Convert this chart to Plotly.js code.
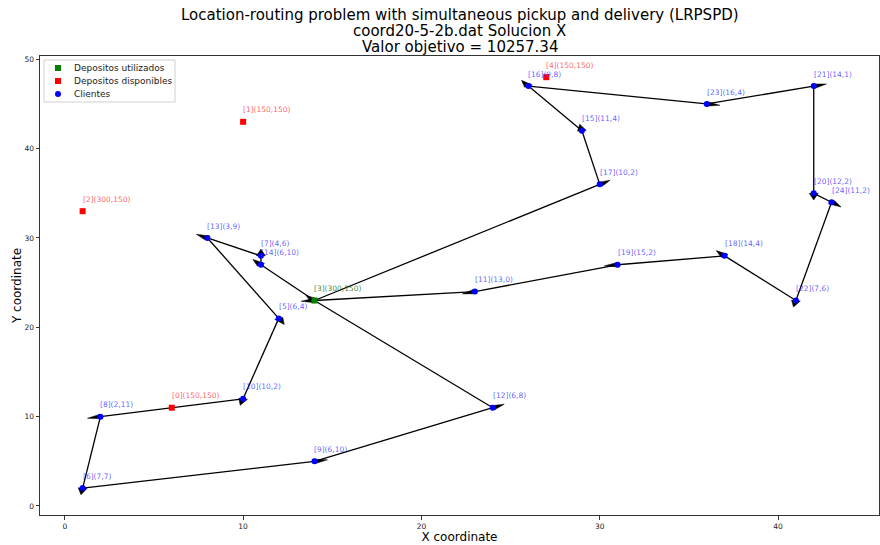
<!DOCTYPE html>
<html><head><meta charset="utf-8">
<script src="https://cdn.plot.ly/plotly-3.0.1.min.js"></script>
<style>html,body{margin:0;padding:0;background:#fff}#chart{width:880px;height:545px}</style>
</head><body><div id="chart"></div>
<script>
// ---- data ----
const titleLines = [
  'Location-routing problem with simultaneous pickup and delivery (LRPSPD)',
  'coord20-5-2b.dat Solucion X',
  'Valor objetivo = 10257.34'
];
const legendLabels = ['Depositos utilizados', 'Depositos disponibles', 'Clientes'];

const depotIds  = [0, 1, 2, 3, 4];
const depotX    = [6, 10, 1, 14, 27];
const depotY    = [11, 43, 33, 23, 48];
const depotCap  = [150, 150, 300, 300, 150];
const depotCost = [150, 150, 150, 150, 150];
const usedDepots = [3];

const clientIds  = [5, 6, 7, 8, 9, 10, 11, 12, 13, 14, 15, 16, 17, 18, 19, 20, 21, 22, 23, 24];
const clientX    = [12, 1, 11, 2, 14, 10, 23, 24, 8, 11, 29, 26, 30, 37, 31, 42, 42, 41, 36, 43];
const clientY    = [21, 2, 28, 10, 5, 12, 24, 11, 30, 27, 42, 47, 36, 28, 27, 35, 47, 23, 45, 34];
const clientPick = [6, 7, 4, 2, 6, 10, 13, 6, 3, 6, 11, 9, 10, 14, 15, 12, 14, 7, 16, 11];
const clientDel  = [4, 7, 6, 11, 10, 2, 0, 8, 9, 10, 4, 8, 2, 4, 2, 2, 1, 6, 4, 2];

const routes = [
  [3, 17, 15, 16, 23, 21, 20, 24, 22, 18, 19, 11, 3],
  [3, 14, 7, 13, 5, 10, 8, 6, 9, 12, 3]
];

const headWidth = 0.5, headLength = 0.75;   // arrow head size in data units

// ---- build ----
const W = 880, H = 545, M = {l: 40, r: 1, t: 56, b: 30};
const PW = W - M.l - M.r, PH = H - M.t - M.b;
const fx = px => (px - M.l) / PW;          // pixel -> plot-area fraction
const fy = py => (H - M.b - py) / PH;

const pos = {};
depotIds.forEach((id, i) => pos[id] = [depotX[i], depotY[i]]);
clientIds.forEach((id, i) => pos[id] = [clientX[i], clientY[i]]);

const lineX = [], lineY = [], headX = [], headY = [];
routes.forEach(r => {
  for (let k = 0; k < r.length - 1; k++) {
    const a = pos[r[k]], b = pos[r[k + 1]];
    lineX.push(a[0], b[0], null); lineY.push(a[1], b[1], null);
    const dx = b[0] - a[0], dy = b[1] - a[1], L = Math.hypot(dx, dy);
    const ux = dx / L, uy = dy / L, px = -uy, py = ux;
    headX.push(b[0] + px * headWidth / 2, b[0] + ux * headLength, b[0] - px * headWidth / 2, b[0] + px * headWidth / 2, null);
    headY.push(b[1] + py * headWidth / 2, b[1] + uy * headLength, b[1] - py * headWidth / 2, b[1] + py * headWidth / 2, null);
  }
});

const usedIdx = depotIds.map((id, i) => i).filter(i => usedDepots.includes(depotIds[i]));
const freeIdx = depotIds.map((id, i) => i).filter(i => !usedDepots.includes(depotIds[i]));

const colUsed = '#008000', colFree = '#ff0000', colClient = '#0000ff';
const font = 'DejaVu Sans, Verdana, sans-serif';

// legend geometry (pixels)
const legRowsY = [68, 81, 94], legMarkX = 58, legTextX = 73;
const legSymbols = ['square', 'square', 'circle'], legColors = [colUsed, colFree, colClient];

const traces = [
  {x: lineX, y: lineY, mode: 'lines', line: {color: '#000', width: 1.3}, showlegend: false, hoverinfo: 'skip'},
  {x: headX, y: headY, mode: 'lines', fill: 'toself', fillcolor: '#000', line: {color: '#000', width: 0.5}, showlegend: false, hoverinfo: 'skip'},
  {x: usedIdx.map(i => depotX[i]), y: usedIdx.map(i => depotY[i]), mode: 'markers', name: legendLabels[0],
   marker: {symbol: 'square', size: 6, color: colUsed}, showlegend: false},
  {x: freeIdx.map(i => depotX[i]), y: freeIdx.map(i => depotY[i]), mode: 'markers', name: legendLabels[1],
   marker: {symbol: 'square', size: 6, color: colFree}, showlegend: false},
  {x: clientX, y: clientY, mode: 'markers', name: legendLabels[2],
   marker: {symbol: 'circle', size: 6, color: colClient}, showlegend: false},
  // legend keys
  {x: legRowsY.map(() => fx(legMarkX)), y: legRowsY.map(fy), xaxis: 'x2', yaxis: 'y2', mode: 'markers',
   marker: {symbol: legSymbols, size: 6, color: legColors}, showlegend: false, hoverinfo: 'skip'}
];

const annotations = [];
const titleShift = [41, 25, 9];
titleLines.forEach((t, k) => annotations.push({
  x: 0.5, y: 1, xref: 'paper', yref: 'paper', xanchor: 'center', yanchor: 'middle', yshift: titleShift[k],
  text: t, showarrow: false, borderpad: 0, font: {family: font, size: 15, color: '#000'}
}));
legendLabels.forEach((t, k) => annotations.push({
  x: fx(legTextX), y: fy(legRowsY[k]), xref: 'paper', yref: 'paper', xanchor: 'left', yanchor: 'middle',
  text: t, showarrow: false, borderpad: 0, font: {family: font, size: 9, color: '#222'}
}));

function addLabel(x, y, text, color) {
  annotations.push({x: x, y: y + 1, xref: 'x', yref: 'y', text: text, showarrow: false,
    xanchor: 'left', yanchor: 'middle', xshift: -2, yshift: 3,
    font: {family: font, size: 7.5, color: color}});
}
depotIds.forEach((id, i) => {
  const used = usedDepots.includes(id);
  addLabel(depotX[i], depotY[i], '[' + id + '](' + depotCap[i] + ',' + depotCost[i] + ')',
           used ? 'rgba(0,100,0,0.75)' : 'rgba(255,0,0,0.65)');
});
clientIds.forEach((id, i) => {
  addLabel(clientX[i], clientY[i], '[' + id + '](' + clientPick[i] + ',' + clientDel[i] + ')', 'rgba(0,0,255,0.65)');
});

const axisCommon = {
  showgrid: false, zeroline: false, showline: true, mirror: true, linecolor: '#333', linewidth: 1,
  ticks: 'outside', ticklen: 3.5, tickwidth: 1, tickcolor: '#333',
  tickfont: {family: font, size: 7.5, color: '#222'}, automargin: false
};

const layout = {
  width: W, height: H,
  margin: M,
  paper_bgcolor: '#fff', plot_bgcolor: '#fff',
  font: {family: font},
  xaxis: Object.assign({}, axisCommon, {range: [-1.39, 45.66], tickvals: [0, 10, 20, 30, 40],
    title: {text: 'X coordinate', font: {family: font, size: 12, color: '#000'}, standoff: 0}}),
  yaxis: Object.assign({}, axisCommon, {range: [-1.01, 50.37], tickvals: [0, 10, 20, 30, 40, 50],
    title: {text: 'Y coordinate', font: {family: font, size: 12, color: '#000'}, standoff: 0}}),
  xaxis2: {overlaying: 'x', range: [0, 1], visible: false, fixedrange: true},
  yaxis2: {overlaying: 'y', range: [0, 1], visible: false, fixedrange: true},
  shapes: [{type: 'rect', xref: 'paper', yref: 'paper', layer: 'below',
    x0: fx(44), x1: fx(175), y0: fy(102), y1: fy(60),
    line: {color: '#d0d0d0', width: 1}, fillcolor: 'rgba(255,255,255,0.8)'}],
  annotations: annotations,
  showlegend: false
};

Plotly.newPlot('chart', traces, layout, {displayModeBar: false, staticPlot: true});
</script>
</body></html>
